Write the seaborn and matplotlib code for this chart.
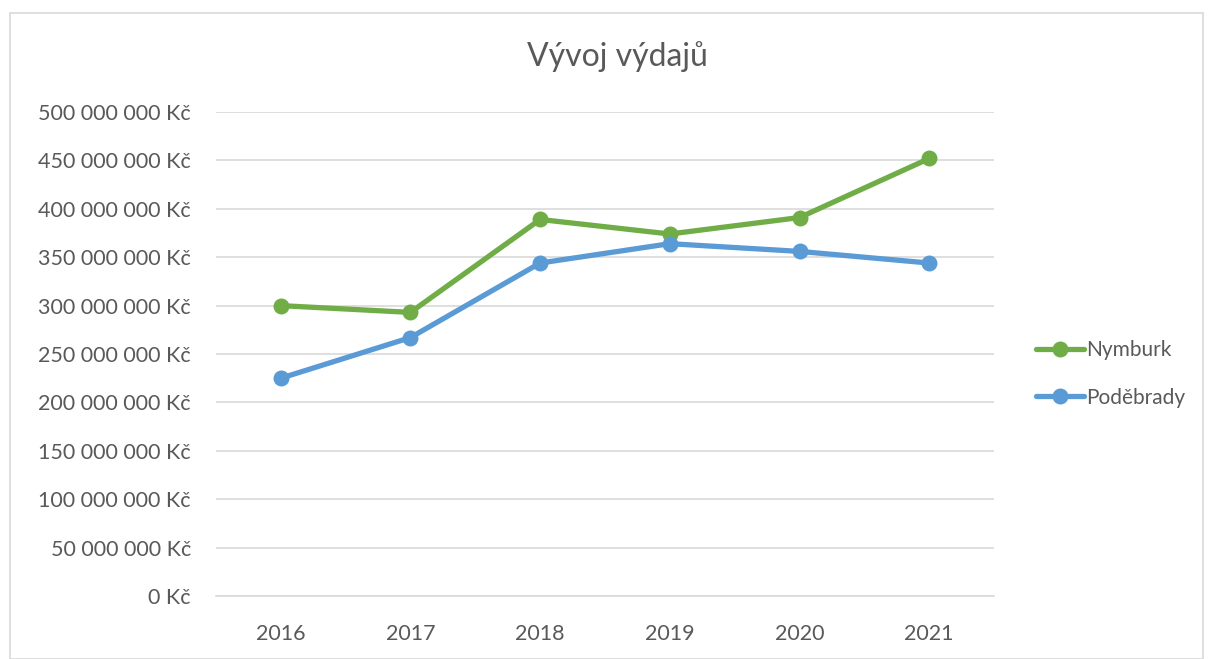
import pandas as pd
import matplotlib.pyplot as plt
import seaborn as sns
from matplotlib.ticker import FuncFormatter
from matplotlib.patches import Rectangle

# Data (Kč)
roky = ['2016', '2017', '2018', '2019', '2020', '2021']
nymburk = [300_000_000, 293_000_000, 389_000_000, 374_000_000, 391_000_000, 452_000_000]
podebrady = [225_000_000, 267_000_000, 344_000_000, 364_000_000, 356_000_000, 344_000_000]

df = pd.DataFrame({
    'Rok': roky * 2,
    'Výdaje': nymburk + podebrady,
    'Město': ['Nymburk'] * len(roky) + ['Poděbrady'] * len(roky),
})

sns.set_style('white')
plt.rcParams['font.family'] = ['Lato', 'DejaVu Sans']
text_color = '#595959'

fig = plt.figure(figsize=(12.13, 6.59), dpi=100)
ax = fig.add_axes([0.178, 0.0956, 0.6415, 0.7344])

sns.lineplot(data=df, x='Rok', y='Výdaje', hue='Město',
             palette={'Nymburk': '#70AD47', 'Poděbrady': '#5B9BD5'},
             marker='o', markersize=11.5, markeredgewidth=0, linewidth=3.8,
             ax=ax)

ax.set_ylim(0, 500_000_000)
ax.set_xlim(-0.5, 5.5)
ax.set_yticks(range(0, 500_000_001, 50_000_000))
ax.yaxis.set_major_formatter(FuncFormatter(
    lambda v, p: '{:,.0f} Kč'.format(v).replace(',', ' ')))
ax.grid(axis='y', color='#D9D9D9', linewidth=1.2)
ax.set_axisbelow(True)
for s in ['top', 'right', 'left']:
    ax.spines[s].set_visible(False)
ax.spines['bottom'].set_color('#D9D9D9')
ax.spines['bottom'].set_linewidth(1.2)
ax.tick_params(axis='both', length=0, labelsize=15.5, labelcolor=text_color)
ax.tick_params(axis='y', pad=18)
ax.tick_params(axis='x', pad=20)
ax.set_xlabel('')
ax.set_ylabel('')

fig.text(617 / 1213, 1 - 57 / 659, 'Vývoj výdajů', ha='center', va='center',
         fontsize=23, color=text_color)

leg = ax.legend(loc='center left', bbox_to_anchor=(1017 / 1213, 1 - 374 / 659),
                bbox_transform=fig.transFigure, frameon=False, fontsize=15,
                labelcolor=text_color, handlelength=2.3, handletextpad=0.1,
                labelspacing=1.3, title=None)

# outer chart border
fig.patches.append(Rectangle((10 / 1213, 0), 1193 / 1213, 1 - 13 / 659,
                             transform=fig.transFigure, fill=False,
                             edgecolor='#D9D9D9', linewidth=1.2))

plt.savefig('out.png', dpi=100)
